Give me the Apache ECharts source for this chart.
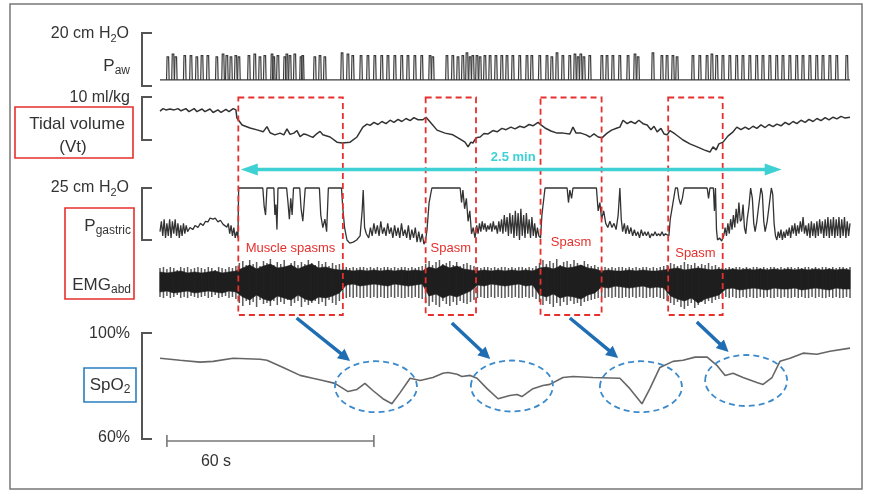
<!DOCTYPE html>
<html>
<head>
<meta charset="utf-8">
<script src="https://cdn.jsdelivr.net/npm/echarts@6/dist/echarts.min.js"></script>
<style>
html, body { margin: 0; padding: 0; background: #fff; }
#chart { width: 873px; height: 491px; }
</style>
</head>
<body>
<div id="chart"></div>
<script>
// all traces share one time axis, in seconds (0..200)

// airway pressure: breath spikes [time s, peak cm H2O]
const pawBase = 2.3;
const pawSpikes = [
  [2.3,11],[3.8,12],[4.6,11],[7.2,11.5],[9.0,11.5],[10.7,11],[12.2,11.5],[13.9,11.5],[16.5,11],[18.3,12],
  [19.4,11.5],[20.6,11],[22.0,11.5],[22.9,11],[25.8,11.5],[27.5,12],[29.0,11],[30.4,11.5],[32.5,12],[33.0,11],
  [34.2,11.5],[36.2,11],[36.8,12],[37.7,11.5],[39.1,12],[40.9,11],[41.4,11.5],[44.9,11],[46.4,11.5],[47.8,11],
  [52.8,12.5],[54.5,12],[55.9,11.5],[58.3,11.5],[60.3,11.5],[62.3,11.5],[64.3,11.5],[66.1,11.5],[68.1,11.5],[70.1,11.5],
  [71.9,11.5],[73.9,11.5],[75.9,11.5],[78.3,11.5],[79.1,11],[83.2,11.5],[84.9,11.5],[86.4,11],[87.8,11.5],[89.0,12.5],
  [89.9,11],[90.7,11.5],[91.9,11.5],[92.8,11],[94.2,11.5],[95.7,11.5],[97.4,11.5],[99.1,11.5],[100.6,11.5],[102.3,11.5],
  [104.3,11.5],[106.4,11.5],[107.8,11.5],[110.1,11.5],[112.2,11.5],[113.6,11],[115.1,12.5],[116.8,11.5],[118.8,11.5],[120.3,12],
  [121.2,11],[122.0,12],[122.9,11],[124.6,11.5],[128.1,11.5],[129.6,11.5],[131.3,11.5],[133.3,11.5],[135.7,11.5],[137.7,12],
  [138.6,11],[142.9,12.5],[145.5,11.5],[147.0,11.5],[148.7,11.5],[149.9,11],[154.5,11.5],[156.5,11.5],[158.6,11.5],[160.0,12],
  [161.4,11.5],[163.2,11.5],[165.2,11.5],[167.2,11.5],[169.0,11.5],[171.0,11.5],[173.0,11.5],[174.8,11.5],[176.8,11.5],[178.8,11.5],
  [180.6,11.5],[182.6,11.5],[184.6,11.5],[186.4,11.5],[188.4,11.5],[190.4,11.5],[192.2,11.5],[194.2,11.5],[196.2,11.5],[199.1,11.5]
];

// tidal volume, ml/kg
const vtData = [
  [0,6.7],[0.9,7.3],[1.7,7.0],[2.9,7.2],[4.1,7.0],[5.2,7.3],[6.1,6.8],[7.5,7.3],[8.4,6.6],[9.9,7.3],
  [10.7,6.6],[12.2,7.2],[13.0,6.6],[14.5,7.2],[15.4,6.4],[16.8,7.0],[17.7,6.4],[19.1,7.1],[20.0,6.6],[21.2,7.3],
  [22.0,7.0],[22.3,5.1],[23.8,3.5],[26.1,2.8],[28.4,2.3],[29.9,1.9],[31.0,3.1],[31.9,1.7],[33.3,1.2],[34.8,1.6],
  [35.9,1.2],[36.8,2.6],[37.7,1.3],[38.8,1.6],[39.7,2.2],[40.6,0.8],[41.7,1.4],[42.6,1.2],[44.3,0.6],[45.5,1.5],
  [46.4,2.0],[47.2,1.2],[49.3,0.7],[51.3,-0.5],[52.8,-0.7],[55.1,-0.5],[57.1,0.7],[58.8,3.0],[60.0,3.7],[60.9,3.4],
  [62.0,4.1],[63.2,3.6],[64.3,4.3],[65.5,3.8],[66.7,4.6],[67.8,4.1],[69.0,4.8],[70.1,4.3],[71.3,5.0],[72.5,4.5],
  [73.6,5.2],[74.8,4.7],[76.2,4.7],[77.1,5.3],[78.3,4.2],[80.3,2.3],[82.6,1.6],[84.9,1.2],[87.0,0.2],[88.4,-0.5],
  [89.3,-1.6],[90.1,-0.5],[90.7,-0.7],[91.6,0.5],[92.8,0.7],[93.9,1.5],[95.1,1.4],[96.5,2.2],[97.7,1.9],[99.1,2.7],
  [100.3,2.4],[101.7,3.0],[102.9,2.6],[104.3,3.2],[105.5,2.9],[107.0,3.6],[108.1,3.3],[109.6,4.1],[110.4,3.5],[111.6,2.8],
  [113.3,2.1],[115.1,1.6],[116.8,1.6],[118.8,1.4],[119.7,3.0],[120.6,1.6],[122.0,1.6],[123.5,1.2],[124.6,0.7],[125.8,1.4],
  [127.0,0.7],[128.1,0.5],[129.6,1.6],[130.9,2.3],[132.5,2.8],[133.3,3.0],[134.2,4.6],[135.4,3.8],[136.5,4.3],[137.7,3.8],
  [138.8,4.6],[140.0,3.8],[141.2,3.5],[142.3,2.4],[143.2,3.2],[144.1,1.9],[145.2,2.7],[146.1,1.4],[147.0,1.2],[147.8,2.2],
  [149.3,1.4],[151.6,0],[153.6,-0.9],[155.7,-1.6],[157.7,-2.3],[159.4,-2.8],[160.3,-1.6],[161.2,-2.3],[162.0,-0.9],[163.2,-0.5],
  [164.6,0.9],[166.1,1.9],[167.2,3.0],[168.4,2.4],[169.6,3.0],[170.7,2.5],[171.9,3.2],[173.0,2.7],[174.2,3.5],[175.4,2.9],
  [176.5,3.6],[177.7,3.1],[178.8,3.7],[180.0,3.3],[181.2,4.1],[182.3,3.6],[183.5,4.3],[184.6,3.8],[185.8,4.6],[187.0,4.1],
  [188.1,4.8],[189.3,4.3],[190.4,5.0],[191.6,4.5],[192.8,5.2],[193.9,4.7],[195.1,5.3],[196.2,4.9],[197.4,5.5],[198.6,5.1],
  [200,5.3]
];

// gastric pressure, cm H2O (recorder clips at 25)
const pgasData = [
  [0,4],[0.4,9],[0.8,2],[1.2,10],[1.6,1],[2,8],[2.4,2],[2.8,10],[3.2,1],[3.6,9],[4,3],[4.4,10],[4.8,2],[5.2,8],[5.6,1],
  [6,7],[6.4,2],[6.8,8],[7.2,3],[7.6,7],[8,4],[8.7,6],[9.5,5],[10.2,7],[11,6],[11.7,8],[12.5,7],[13.2,9],[13.9,8.7],
  [14.5,10.5],[15.4,10],[16,10.5],[16.8,8.7],[17.5,9.5],[18.3,7.5],[19.4,6.2],[19.8,8],[20.2,3],[20.6,7],[21,2],
  [21.4,6],[21.8,1],[22.2,4],[22.6,1],
  [22.8,25],[29.8,25],[30.2,16],[30.6,12],[31,25],[33,25],[33.3,12],[33.6,17],[33.9,5],[34.2,25],[36.7,25],[37.1,18],
  [37.5,10],[37.9,20],[38.3,12],[38.7,25],[40.5,25],[40.9,15],[41.4,9],[41.8,18],[42.1,25],[46.2,25],[46.6,12],[47.2,6],
  [47.8,10],[48.3,4],[48.8,25],[52.6,25],[53,15],[53.5,6],[54.2,0],[55,-1.5],
  [56,-1],[57,0],[58,2],[58.6,14],[58.9,24],[59.3,6],[59.8,3],[60.5,1],[61,6],[61.5,2],[62,8],[62.5,3],[63,7],[63.5,2],
  [64,9],[64.5,3],[65,6],[65.5,2],[66,8],[66.5,3],[67,6],[67.5,1],[68,7],[68.5,2],[69,6],[69.5,1],[70,8],[70.5,2],
  [71,5],[71.5,1],[72,7],[72.5,0],[73,5],[73.5,1],[74,6],[74.5,-1],[75,4],[75.5,-1],[76,3],[76.5,-2],[77,0],
  [77.4,5],[78,18],[78.8,25],[87,25],[87.4,18],[87.8,24],[88.3,15],[88.8,20],[89.3,9],[89.8,14],[90.3,3],[90.8,6],[91.3,1],
  [91.8,7],[92.2,3],[92.6,8],[93,4],[93.4,9],[93.8,5],[94.2,8],[94.6,4],[95,7],[95.4,5],[95.8,8],[96.2,4],[96.6,9],
  [97,5],[97.4,7],[97.8,3],[98.2,9],[98.6,4],[99,10],[99.4,3],[99.8,12],[100.2,4],[100.6,11],[101,2],[101.4,13],
  [101.8,3],[102.2,12],[102.6,1],[103,14],[103.4,2],[103.8,13],[104.2,0],[104.6,15],[105,2],[105.4,12],[105.8,1],
  [106.2,13],[106.6,3],[107,10],[107.4,1],[107.8,11],[108.2,2],[108.6,8],[109,1],[109.4,6],[109.8,2],[110.3,1],
  [110.7,12],[111.6,25],[118,25],[118.4,18],[118.8,24],[119.3,20],[119.7,25],[126.5,25],[127,14],[127.5,18],[128,10],
  [128.6,14],[129.2,8],[129.8,6],[130.4,9],[131,6],[131.6,8],[132.2,5],[132.8,12],[133.3,25],[133.7,10],[134.1,4],
  [134.6,8],[135,3],[135.5,7],[136,3],[136.5,6],[137,2],[137.5,5],[138,2],[138.5,4],[139,1],[139.5,5],[140,2],
  [140.5,4],[141,2],[141.5,4],[142,1],[142.5,3],[143,2],[143.5,4],[144,2],[144.5,3],[145,2],[145.5,4],[146,2],
  [146.5,3],[147,2.5],[147.5,2],
  [147.9,10],[148.7,18],[149.4,25],[150,25],[150.4,20],[150.9,17],[151.4,20],[151.9,25],[158.6,25],[159,20],[159.4,25],
  [160.4,25],[160.7,14],[161,25],[161.3,5],[161.6,0],[162.2,1],[162.8,-0.5],[163.4,2],
  [163.8,6],[164.2,2],[164.6,8],[165,3],[165.4,10],[165.8,5],[166.2,12],[166.6,6],[167,15],[167.4,8],[167.8,18],
  [168.2,9],[168.6,10],[169,17],[169.4,6],[169.8,3],[170.2,10],[170.7,16],[171.2,25],[171.7,20],[172.1,8],[172.5,4],
  [173,9],[173.5,16],[174.2,25],[174.6,22],[175,9],[175.4,4],[176,9],[176.6,17],[177.2,25],[177.6,22],[178,8],
  [178.4,2],[178.8,0],[179.2,4],[179.6,1],[180,5],[180.4,0],[180.8,4],[181.2,1],[181.6,5],[182,2],[182.4,6],
  [182.8,1],[183.2,7],[183.6,3],[184,8],[184.4,2],[184.8,7],[185.2,3],[185.6,9],[186,4],[186.4,11],[186.8,3],
  [187.2,7],[187.6,2],[188,8],[188.4,1],[188.8,9],[189.2,2],[189.6,8],[190,1],[190.4,9],[190.8,2],[191.2,10],
  [191.6,3],[192,9],[192.4,1],[192.8,10],[193.2,2],[193.6,11],[194,1],[194.4,10],[194.8,2],[195.2,11],[195.6,1],
  [196,10],[196.4,2],[196.8,11],[197.2,1],[197.6,10],[198,2],[198.4,11],[198.8,1],[199.2,9],[199.6,2],[200,8]
];

// abdominal EMG, one reading per second (index = s): outer excursion
const emgHi = [
  15,16,14,16,15,13,16,15,16,14,15,16,15,14,16,15,13,16,15,14,16,15,17,
  20,22,18,23,19,21,17,22,20,24,18,21,19,23,17,20,22,18,21,19,23,20,18,22,19,21,17,20,18,19,16,
  16,15,16,15,16,16,15,16,15,16,15,16,16,15,16,15,16,16,15,16,15,16,17,
  19,22,18,21,23,19,20,22,18,21,17,19,20,18,17,
  16,15,16,16,15,16,15,16,16,15,16,15,16,16,15,16,15,17,
  20,23,19,22,20,24,18,21,22,19,23,20,18,22,19,17,18,16,
  15,16,15,16,15,16,16,15,16,15,16,15,16,16,15,16,15,16,17,
  18,20,19,17,18,21,19,18,20,17,19,18,20,17,18,16,15,
  15,16,15,16,16,15,16,15,16,16,15,16,15,16,16,15,16,15,16,16,15,16,15,16,16,15,16,15,16,16,15,16,15,16,16,15,16
];
const emgLo = [
  -14,-15,-13,-15,-14,-12,-15,-14,-15,-13,-14,-15,-14,-13,-15,-14,-12,-15,-14,-13,-15,-14,-16,
  -20,-23,-18,-22,-19,-24,-17,-21,-20,-23,-18,-22,-19,-21,-17,-23,-20,-18,-24,-19,-22,-20,-18,-21,-19,-23,-17,-20,-22,-18,-16,
  -15,-14,-15,-14,-15,-15,-14,-15,-14,-15,-14,-15,-15,-14,-15,-14,-15,-15,-14,-15,-14,-15,-16,
  -20,-23,-19,-22,-24,-18,-21,-23,-19,-22,-18,-20,-21,-19,-17,
  -15,-14,-15,-15,-14,-15,-14,-15,-15,-14,-15,-14,-15,-15,-14,-15,-14,-16,
  -19,-22,-18,-21,-24,-20,-23,-19,-22,-18,-21,-20,-23,-19,-18,-17,-16,-15,
  -14,-15,-14,-15,-14,-15,-15,-14,-15,-14,-15,-14,-15,-15,-14,-15,-14,-15,-16,
  -18,-20,-22,-19,-24,-26,-23,-20,-25,-22,-19,-21,-18,-20,-17,-16,-15,
  -14,-15,-14,-15,-15,-14,-15,-14,-15,-15,-14,-15,-14,-15,-15,-14,-15,-14,-15,-15,-14,-15,-14,-15,-15,-14,-15,-14,-15,-15,-14,-15,-14,-15,-15,-14,-15
];
// dense dark core of the EMG, every 2 s
const emgCoreHi = [
  11,10,11,12,10,11,10,11,12,10,11,12,
  15,18,14,17,19,15,16,18,14,17,19,15,16,14,13,
  13,12,13,12,13,12,13,12,13,12,13,12,
  16,14,18,15,17,14,13,
  12,13,12,13,12,13,12,13,12,
  15,16,14,17,15,16,18,15,14,
  12,13,12,12,13,12,13,12,12,13,
  14,15,13,14,15,14,13,14,
  13,14,13,14,13,14,13,14,13,14,13,14,13,14,13,14,13,14,13
];
const emgCoreLo = [
  -9,-8,-10,-9,-8,-10,-9,-8,-9,-10,-8,-9,
  -14,-17,-12,-16,-18,-13,-15,-17,-12,-16,-18,-14,-15,-13,-10,
  -2,-1,-3,-2,-1,-2,-3,-1,-2,-3,-2,-1,
  -13,-11,-15,-12,-14,-11,-8,
  -2,-3,-1,-2,-3,-2,-1,-3,-2,
  -12,-14,-11,-15,-13,-14,-16,-12,-10,
  -4,-5,-3,-4,-5,-4,-3,-5,-4,-5,
  -13,-16,-18,-15,-20,-16,-14,-12,
  -6,-5,-7,-6,-5,-6,-7,-5,-6,-6,-5,-7,-6,-5,-6,-7,-5,-6,-6
];

// pulse oximetry, %
const spo2Data = [
  [0,90.5],[5.8,89.7],[11.6,89.0],[15.4,89.3],[21.2,90.5],[29.0,90.1],[31.0,89.7],[35.7,87.0],[40.6,84.0],[44.3,82.9],
  [47.2,82.1],[50.7,81.0],[54.5,77.9],[57.1,78.7],[59.4,81.0],[61.7,78.3],[64.6,75.2],[67.2,73.3],[69.6,77.5],[72.5,82.9],
  [75.4,82.1],[79.1,83.2],[82.0,84.8],[83.5,85.1],[86.1,84.4],[87.5,83.6],[89.9,84.0],[91.9,82.9],[94.8,79.0],[98.0,75.2],
  [101.4,76.4],[103.5,76.8],[104.9,76.0],[108.1,79.0],[111.0,80.2],[113.0,80.6],[116.8,83.2],[119.7,83.6],[125.5,83.2],[133.3,82.9],
  [136.2,79.0],[139.7,73.3],[142.0,79.0],[144.9,87.0],[148.7,89.3],[151.6,89.7],[155.1,90.9],[158.6,90.9],[161.4,87.8],[163.8,84.0],
  [166.1,84.8],[169.0,83.2],[173.0,81.3],[174.8,80.6],[177.4,83.2],[179.7,89.3],[182.6,90.5],[186.4,92.4],[190.4,92.0],[194.2,93.1],
  [200,94.3]
];

// spasm windows [start s, end s] and their captions
const spasmWindows = [[22.7, 53.0], [77.0, 91.6], [110.3, 128.0], [147.3, 163.1]];
const spasmLabels = ['Muscle spasms', 'Spasm', 'Spasm', 'Spasm'];
const spanArrow = [23.4, 180.2];
const spanLabel = '2.5 min';
const timeBar = [2, 62];
const timeBarLabel = '60 s';

const FONT = '"Liberation Sans", Arial, sans-serif';
const INK = '#333';
const RED = '#e5302d';
const CYAN = '#3fd0d4';
const BLUE = '#1f6db3';
const DASHBLUE = '#3c8acb';

const myChart = echarts.init(document.querySelector('#chart'));

const L = 160, R = 23;
const grids = [
  { left: L, right: R, top: 33, height: 53 },   // Paw  0..20
  { left: L, right: R, top: 97, height: 43 },   // Vt   0..10
  { left: L, right: R, top: 188, height: 52 },  // Pgas 0..25
  { left: L, right: R, top: 258, height: 50 },  // EMG  -25..25
  { left: L, right: R, top: 333, height: 106 }  // SpO2 60..100
];
const yRanges = [[0, 20], [0, 10], [0, 25], [-25, 25], [60, 100]];

const option = {
  animation: false,
  grid: grids,
  xAxis: grids.map((g, i) => ({ type: 'value', gridIndex: i, min: 0, max: 200, show: false })),
  yAxis: yRanges.map((r, i) => ({ type: 'value', gridIndex: i, min: r[0], max: r[1], show: false })),
  series: [
    {
      type: 'line', xAxisIndex: 0, yAxisIndex: 0, symbol: 'none', clip: false,
      data: [[0, pawBase], [200, pawBase]],
      lineStyle: { color: '#3a3a3a', width: 1.4 }
    },
    {
      type: 'custom', xAxisIndex: 0, yAxisIndex: 0, clip: false,
      data: pawSpikes,
      renderItem(params, api) {
        const t = api.value(0), pk = api.value(1);
        return {
          type: 'polyline',
          shape: { points: [api.coord([t - 0.4, pawBase]), api.coord([t - 0.25, pk]), api.coord([t + 0.2, pk]), api.coord([t + 0.35, pawBase])] },
          style: { stroke: '#3a3a3a', fill: null, lineWidth: 1.2 }
        };
      }
    },
    {
      type: 'line', xAxisIndex: 1, yAxisIndex: 1, symbol: 'none', clip: false,
      data: vtData, lineStyle: { color: INK, width: 1.5 }
    },
    {
      type: 'line', xAxisIndex: 2, yAxisIndex: 2, symbol: 'none', clip: false,
      data: pgasData, lineStyle: { color: INK, width: 1.3 }
    },
    {
      // gray vertical excursions of the EMG
      type: 'custom', xAxisIndex: 3, yAxisIndex: 3, clip: false,
      data: emgHi.map((h, i) => [i, emgLo[i], h]),
      encode: { x: 0, y: [1, 2] },
      renderItem(params, api) {
        const t = api.value(0);
        const a = api.coord([t, api.value(1)]), b = api.coord([t, api.value(2)]);
        return {
          type: 'line',
          shape: { x1: a[0], y1: a[1], x2: b[0], y2: b[1] },
          style: { stroke: '#5a5a5a', lineWidth: 1.5 }
        };
      }
    },
    {
      // dark EMG core, a band between emgCoreLo and emgCoreHi
      type: 'custom', xAxisIndex: 3, yAxisIndex: 3, clip: false,
      data: emgCoreHi.map((h, i) => [i * 2, emgCoreLo[i], h]),
      encode: { x: 0, y: [1, 2] },
      renderItem(params, api) {
        const i = params.dataIndex;
        if (i >= emgCoreHi.length - 1) return null;
        const t0 = i * 2, t1 = t0 + 2;
        return {
          type: 'polygon',
          shape: { points: [
            api.coord([t0, emgCoreHi[i]]), api.coord([t1, emgCoreHi[i + 1]]),
            api.coord([t1, emgCoreLo[i + 1]]), api.coord([t0, emgCoreLo[i]])
          ] },
          style: { fill: '#1e1e1e', stroke: '#1e1e1e', lineWidth: 0.6 }
        };
      }
    },
    {
      type: 'line', xAxisIndex: 4, yAxisIndex: 4, symbol: 'none', clip: false,
      data: spo2Data, lineStyle: { color: '#666', width: 1.6 }
    }
  ]
};

myChart.setOption(option);

// ---------- annotations, placed through the axes ----------
const xpx = t => myChart.convertToPixel({ xAxisIndex: 0 }, t);
const ypx = (i, v) => myChart.convertToPixel({ yAxisIndex: i }, v);

function arrowHead(x1, y1, x2, y2, len, half, color) {
  const a = Math.atan2(y2 - y1, x2 - x1);
  const bx = x2 - len * Math.cos(a), by = y2 - len * Math.sin(a);
  const nx = -Math.sin(a) * half, ny = Math.cos(a) * half;
  return { type: 'polygon', z: 110, shape: { points: [[x2, y2], [bx + nx, by + ny], [bx - nx, by - ny]] }, style: { fill: color } };
}

function arrow(x1, y1, x2, y2, color, w, len, half) {
  const a = Math.atan2(y2 - y1, x2 - x1);
  return [
    { type: 'line', z: 110, shape: { x1, y1, x2: x2 - len * 0.8 * Math.cos(a), y2: y2 - len * 0.8 * Math.sin(a) }, style: { stroke: color, lineWidth: w } },
    arrowHead(x1, y1, x2, y2, len, half, color)
  ];
}

const rich = {
  m: { fontSize: 16, fontFamily: FONT, fill: INK },
  s: { fontSize: 11, fontFamily: FONT, fill: INK, padding: [9, 0, 0, 0] },
  big: { fontSize: 17, fontFamily: FONT, fill: INK },
  bs: { fontSize: 12, fontFamily: FONT, fill: INK, padding: [10, 0, 0, 0] }
};
function label(x, y, text, align) {
  return { type: 'text', z: 120, style: { x, y, text, rich, textAlign: align || 'right', textVerticalAlign: 'middle', font: '16px ' + FONT, fill: INK } };
}

const g = [];
// outer frame
g.push({ type: 'rect', z: 90, shape: { x: 10, y: 4, width: 852, height: 485 }, style: { fill: null, stroke: '#777', lineWidth: 1.5 } });

// scale brackets
[[0, 0, 20], [1, 0, 10], [2, 0, 25], [4, 60, 100]].forEach(([i, lo, hi]) => {
  const y0 = ypx(i, hi), y1 = ypx(i, lo);
  g.push({ type: 'polyline', z: 100, shape: { points: [[152, y0], [142, y0], [142, y1], [152, y1]] }, style: { stroke: '#555', lineWidth: 2, fill: null } });
});

g.push(label(129, ypx(0, 20) + 1, '{m|20 cm H}{s|2}{m|O}'));
g.push(label(130, 66, '{big|P}{bs|aw}'));
g.push(label(130, ypx(1, 10) + 1, '{m|10 ml/kg}'));
g.push(label(129, ypx(2, 25), '{m|25 cm H}{s|2}{m|O}'));
g.push(label(130, ypx(4, 100) + 1, '{m|100%}'));
g.push(label(130, ypx(4, 60) - 1, '{m|60%}'));

// red label boxes
g.push({ type: 'rect', z: 100, shape: { x: 15, y: 107, width: 118, height: 51 }, style: { fill: null, stroke: RED, lineWidth: 1.6 } });
g.push(label(77, 124, '{big|Tidal volume}', 'center'));
g.push(label(73, 147, '{big|(Vt)}', 'center'));
g.push({ type: 'rect', z: 100, shape: { x: 65, y: 208, width: 69, height: 91 }, style: { fill: null, stroke: RED, lineWidth: 1.6 } });
g.push(label(131, 226, '{big|P}{bs|gastric}'));
g.push(label(131, 285, '{big|EMG}{bs|abd}'));

// blue SpO2 box
g.push({ type: 'rect', z: 100, shape: { x: 84, y: 368, width: 52, height: 34 }, style: { fill: null, stroke: '#2a7fbf', lineWidth: 1.6 } });
g.push(label(110, 385, '{big|SpO}{bs|2}', 'center'));

// spasm windows
const boxTop = 97.5, boxBottom = 315;
const labelY = [248, 248, 242, 253];
spasmWindows.forEach(([a, b], k) => {
  const x0 = xpx(a), x1 = xpx(b);
  g.push({ type: 'rect', z: 105, shape: { x: x0, y: boxTop, width: x1 - x0, height: boxBottom - boxTop },
    style: { fill: null, stroke: RED, lineWidth: 1.8, lineDash: [6, 4] } });
  g.push({ type: 'text', z: 120, style: { x: (x0 + x1) / 2, y: labelY[k], text: spasmLabels[k], textAlign: 'center', textVerticalAlign: 'middle', font: '13px ' + FONT, fill: RED } });
});

// 2.5 min span
{
  const a = xpx(spanArrow[0]), b = xpx(spanArrow[1]), y = 169.5;
  g.push({ type: 'line', z: 110, shape: { x1: a + 12, y1: y, x2: b - 12, y2: y }, style: { stroke: CYAN, lineWidth: 3.5 } });
  g.push(arrowHead(b, y, a, y, 17, 6, CYAN));
  g.push(arrowHead(a, y, b, y, 17, 6, CYAN));
  g.push({ type: 'text', z: 120, style: { x: (a + b) / 2 + 2, y: 157, text: spanLabel, textAlign: 'center', textVerticalAlign: 'middle', font: 'bold 13px ' + FONT, fill: CYAN } });
}

// desaturation arrows and circles
const drops = [[39.6, 318, 55.1, 361], [84.6, 323, 95.7, 359], [118.8, 318, 132.8, 358], [155.6, 322, 164.8, 352]];
drops.forEach(([t0, y0, t1, y1]) => g.push(...arrow(xpx(t0), y0, xpx(t1), y1, BLUE, 3.5, 12, 6)));
const rings = [[62.6, 386.7], [102.0, 386], [139.4, 386.7], [169.9, 380.5]];
rings.forEach(([t, cy]) => {
  g.push({ type: 'ellipse', z: 105, shape: { cx: xpx(t), cy, rx: 41, ry: 25.5 }, style: { fill: null, stroke: DASHBLUE, lineWidth: 1.8, lineDash: [6, 4] } });
});

// 60 s time bar
{
  const a = xpx(timeBar[0]), b = xpx(timeBar[1]), y = 441;
  g.push({ type: 'line', z: 100, shape: { x1: a, y1: y, x2: b, y2: y }, style: { stroke: '#777', lineWidth: 1.6 } });
  g.push({ type: 'line', z: 100, shape: { x1: a, y1: y - 6, x2: a, y2: y + 6 }, style: { stroke: '#777', lineWidth: 1.6 } });
  g.push({ type: 'line', z: 100, shape: { x1: b, y1: y - 6, x2: b, y2: y + 6 }, style: { stroke: '#777', lineWidth: 1.6 } });
  g.push(label(216, 462, '{m|' + timeBarLabel + '}', 'center'));
}

myChart.setOption({ graphic: { elements: g } });

window.addEventListener('resize', function() {
  myChart.resize();
});
</script>
</body>
</html>
